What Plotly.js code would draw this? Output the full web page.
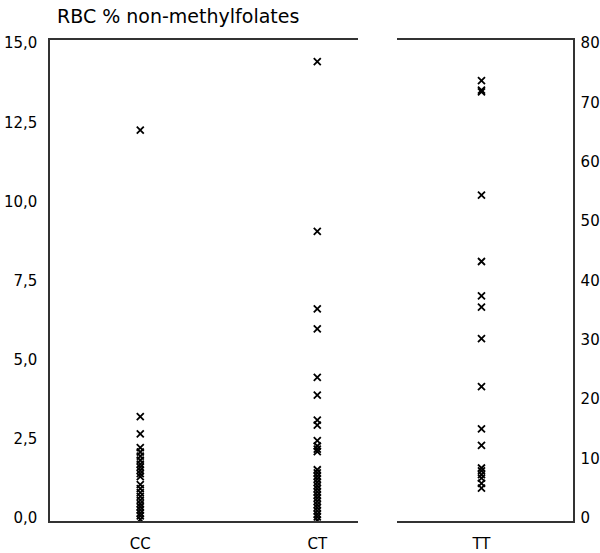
<!DOCTYPE html>
<html><head><meta charset="utf-8">
<script src="https://cdn.plot.ly/plotly-3.0.1.min.js"></script>
<style>body{margin:0;background:#fff}#c{width:600px;height:553px}</style>
</head><body><div id="c"></div>
<script>
const titleText = "RBC % non-methylfolates";
const leftCategories = ["CC", "CT"];
const rightCategories = ["TT"];
const leftTicks = [0, 2.5, 5, 7.5, 10, 12.5, 15];
const rightTicks = [0, 10, 20, 30, 40, 50, 60, 70, 80];
const ccValues = [12.25, 3.2, 2.65, 2.22, 2.08, 1.95, 1.82, 1.7, 1.6, 1.5, 1.4, 1.3, 1.05, 0.92, 0.8, 0.68, 0.56, 0.45, 0.35, 0.25, 0.15, 0.06, -0.05];
const ctValues = [14.42, 9.05, 6.6, 5.97, 4.44, 3.88, 3.09, 2.93, 2.44, 2.27, 2.17, 2.09, 1.52, 1.42, 1.32, 1.22, 1.12, 1.02, 0.92, 0.82, 0.72, 0.62, 0.52, 0.42, 0.32, 0.22, 0.12, 0.03, -0.07];
const ttValues = [73.7, 72.1, 71.8, 54.4, 43.2, 37.4, 35.5, 30.2, 22.1, 15.0, 12.2, 8.4, 7.9, 7.3, 6.7, 5.8, 5.0];

const mk = {symbol: "x-thin", size: 7, color: "#000", line: {color: "#000", width: 1.8}};
const traces = [
  {x: ccValues.map(() => leftCategories[0]), y: ccValues, type: "scatter", mode: "markers", marker: mk, xaxis: "x", yaxis: "y", hoverinfo: "y"},
  {x: ctValues.map(() => leftCategories[1]), y: ctValues, type: "scatter", mode: "markers", marker: mk, xaxis: "x", yaxis: "y", hoverinfo: "y"},
  {x: ttValues.map(() => rightCategories[0]), y: ttValues, type: "scatter", mode: "markers", marker: mk, xaxis: "x2", yaxis: "y2", hoverinfo: "y"}
];
const fontFam = "DejaVu Sans, sans-serif";
const axLine = {showline: true, linecolor: "#333", linewidth: 1.6, showgrid: false, zeroline: false, ticks: ""};
const layout = {
  width: 600, height: 553,
  margin: {l: 50, r: 27, t: 40, b: 32},
  paper_bgcolor: "#fff", plot_bgcolor: "#fff",
  separators: ", ",
  showlegend: false,
  font: {family: fontFam, size: 15, color: "#000"},
  title: {text: titleText, x: 57/600, xanchor: "left", xref: "container", y: 1 - 16/553, yanchor: "middle", yref: "container", font: {size: 19, family: fontFam, color: "#000"}},
  xaxis: Object.assign({}, axLine, {domain: [0, 308/523], type: "category", categoryarray: leftCategories, range: [-0.51, 1.23], mirror: true, anchor: "y", ticklabelstandoff: 8}),
  yaxis: Object.assign({}, axLine, {domain: [0, 1], range: [-0.1, 15.1], tickvals: leftTicks, tickformat: ".1f", anchor: "x", ticklabelstandoff: 8}),
  xaxis2: Object.assign({}, axLine, {domain: [347/523, 1], type: "category", categoryarray: rightCategories, range: [-0.48, 0.52], mirror: true, anchor: "y2", ticklabelstandoff: 8}),
  yaxis2: Object.assign({}, axLine, {domain: [0, 1], range: [-0.53, 80.53], tickvals: rightTicks, side: "right", anchor: "x2", ticklabelstandoff: 3})
};
Plotly.newPlot("c", traces, layout, {displayModeBar: false, staticPlot: true});
</script></body></html>
